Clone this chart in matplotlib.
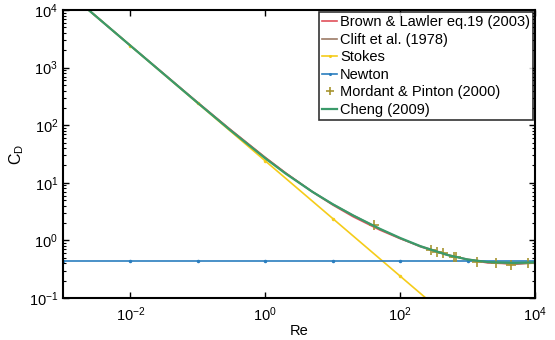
"""
Drag coefficient of a sphere vs Reynolds number
"""
import matplotlib
matplotlib.use("Agg")
import matplotlib.pyplot as plt
from matplotlib.ticker import LogLocator, NullFormatter, FixedLocator, NullLocator

plt.rcParams['font.family'] = ['Liberation Sans', 'DejaVu Sans']
plt.rcParams['mathtext.fontset'] = 'custom'
plt.rcParams['mathtext.rm'] = 'Liberation Sans'
plt.rcParams['mathtext.it'] = 'Liberation Sans'

# Curves
re_curve = [1e-3, 1e-2, 1e-1, 0.3, 1, 2, 5, 10, 20, 50, 100, 200, 500,
            1000, 2000, 5000, 1e4]
cd_brown = [24033, 2415.7, 247.5, 85.3, 27.6, 14.89, 6.95, 4.13, 2.585,
            1.516, 1.073, 0.793, 0.566, 0.463, 0.407, 0.391, 0.411]
cd_clift = [24000, 2404.6, 244.3, 83.8, 27.16, 14.76, 7.03, 4.258, 2.735,
            1.574, 1.087, 0.775, 0.555, 0.471, 0.421, 0.387, 0.405]
cd_cheng = [24003, 2402.8, 242.8, 82.74, 26.62, 14.47, 6.97, 4.255, 2.72,
            1.592, 1.103, 0.794, 0.560, 0.466, 0.420, 0.407, 0.417]

# Stokes and Newton, marked at every decade
re_decades = [1e-3, 1e-2, 1e-1, 1, 10, 100, 1000, 1e4]
cd_stokes = [24000, 2400, 240, 24, 2.4, 0.24, 0.024, 0.0024]
cd_newton = [0.44, 0.44, 0.44, 0.44, 0.44, 0.44, 0.44, 0.44]

# Mordant & Pinton (2000) measurements
re_mp = [40.5, 283, 356, 431, 627, 680, 1375, 2660, 4335, 7810]
cd_mp = [1.86, 0.68, 0.64, 0.60, 0.52, 0.52, 0.43, 0.40, 0.37, 0.40]

x_ticks = [1e-2, 1, 1e2, 1e4]

fig = plt.figure(figsize=(5.55, 3.40), dpi=100)
ax = fig.add_axes([0.1135, 0.1235, 0.8505, 0.847])

ax.loglog(re_curve, cd_brown, color='#E0505A', lw=1.2,
          label='Brown & Lawler eq.19 (2003)')
ax.loglog(re_curve, cd_clift, color='#9C7A66', lw=1.2,
          label='Clift et al. (1978)')
ax.loglog(re_decades, cd_stokes, color='#F5CC1A', lw=1.2, marker='.',
          markersize=3, label='Stokes')
ax.loglog(re_decades, cd_newton, color='#2A7EBF', lw=1.2, marker='.',
          markersize=3, label='Newton')
ax.loglog(re_mp, cd_mp, ls='none', marker='+', color='#A89530',
          markersize=7, mew=1.2, label='Mordant & Pinton (2000)')
ax.loglog(re_curve, cd_cheng, color='#3A9A6A', lw=1.6,
          label='Cheng (2009)')

ax.set_xlim(1e-3, 1e4)
ax.set_ylim(1e-1, 1e4)

ax.xaxis.set_major_locator(FixedLocator(x_ticks))
ax.xaxis.set_minor_locator(NullLocator())
ax.yaxis.set_minor_locator(LogLocator(base=10, subs=range(2, 10), numticks=20))
ax.yaxis.set_minor_formatter(NullFormatter())

ax.tick_params(which='both', direction='in', top=True, right=True,
               labelsize=10.5)
ax.tick_params(axis='x', pad=5)
ax.tick_params(which='major', length=4, width=1)
ax.tick_params(which='minor', length=2, width=0.8)
for side in ax.spines.values():
    side.set_linewidth(1.5)

ax.set_xlabel('Re', fontsize=10.5, labelpad=0)
ax.set_ylabel('$\\mathregular{C_D}$', fontsize=11.5, labelpad=2)

leg = ax.legend(loc='upper right', fontsize=10.5, frameon=True, fancybox=False,
                edgecolor='black', handlelength=1.0, handletextpad=0.2,
                borderpad=0.2, labelspacing=0.24, borderaxespad=0.15,
                markerscale=0.8)
leg.get_frame().set_linewidth(1.2)

fig.savefig("out.png", dpi=100)
